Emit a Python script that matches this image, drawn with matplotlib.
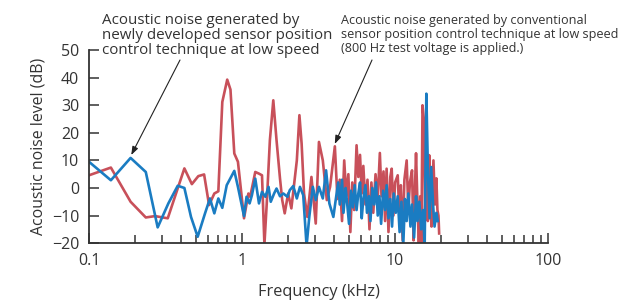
import matplotlib
matplotlib.use("Agg")
import matplotlib.pyplot as plt
from matplotlib.ticker import FixedLocator, FixedFormatter, LogLocator, NullFormatter

plt.rcParams['font.family'] = ['Open Sans', 'DejaVu Sans']

# Conventional technique (800 Hz test voltage), frequency in kHz, level in dB
red_f = [0.1, 0.139, 0.187, 0.235, 0.27, 0.327, 0.42, 0.47, 0.518, 0.565,
         0.609, 0.659, 0.70, 0.743, 0.80, 0.84, 0.89, 0.94, 1.03, 1.10,
         1.13, 1.22, 1.29, 1.35, 1.40, 1.45, 1.52, 1.60, 1.68, 1.77,
         1.83, 1.90, 2.0, 2.1, 2.28, 2.37, 2.45, 2.54, 2.67, 2.84,
         3.03, 3.18, 3.37, 3.58, 3.76,
         4.04, 4.2, 4.35, 4.5, 4.65, 4.8, 4.95, 5.1, 5.25, 5.4,
         5.6, 5.75, 5.9, 6.05, 6.2, 6.4, 6.6, 6.8, 7.0, 7.2,
         7.45, 7.7, 7.95, 8.15, 8.4, 8.6, 8.8, 9.05, 9.3, 9.5,
         9.75, 10.0, 10.4, 10.65, 10.9, 11.2, 11.5, 11.9, 12.2, 12.5,
         12.9, 13.2, 13.45, 13.7, 14.0, 14.3, 14.6, 14.85, 15.1, 15.4,
         15.7, 16.0, 16.35, 16.7, 17.0, 17.3, 17.8, 18.2, 18.6, 18.9,
         19.2, 19.4]
red_db = [4.6, 7.4, -5, -10.7, -10.2, -11, 7.1, 1.4, 4.3, 4.9,
          -6.2, -2, -1.2, 31.2, 39.3, 35.7, 12.5, 9.5, -11, -2,
          -3.2, 5.8, 5.2, 4.6, -20.5, -5.6, 17.3, 31.8, 17.3, 3.4,
          -4.4, -9.2, -2, -7.4, 10, 26.4, 16.1, -2, -10.5, 4,
          -12.9, 16.7, 10, -4.4, 0.4,
          15.1, -4, 3, -12, 10, -3, 5, -16, 2, -8,
          15.5, 4, 12, -2, 8, -6, 3, -15, 2, -9,
          5, -4, 12.7, -3, 6, -12, 7, -16, 4, 7,
          -10, 2, 4.6, -9, 1, -19, 3, 10, -8, 2,
          6.4, -19, -2, 12.6, -6, -20.5, -3, -21, 30, 25,
          -8, 5, -12, 11.9, -5, -14, 10, -6, 3.5, -8,
          -10, -16.5]

# Newly developed technique
blue_f = [0.1, 0.139, 0.187, 0.235, 0.281, 0.33, 0.38, 0.42, 0.464, 0.513,
          0.573, 0.617, 0.659, 0.70, 0.743, 0.794, 0.89, 0.94, 1.03, 1.07,
          1.12, 1.16, 1.22, 1.29, 1.35, 1.42, 1.49, 1.54, 1.62, 1.68,
          1.77, 1.86, 1.98, 2.05, 2.16, 2.28, 2.39, 2.51, 2.64, 2.75,
          2.9, 3.03, 3.18, 3.37, 3.54, 3.72, 3.95,
          4.1, 4.25, 4.35, 4.5, 4.6, 4.75, 4.85, 5.0, 5.15, 5.3,
          5.45, 5.6, 5.75, 5.9, 6.05, 6.2, 6.4, 6.55, 6.75, 6.9,
          7.1, 7.3, 7.5, 7.7, 7.9, 8.1, 8.35, 8.6, 8.8, 9.05,
          9.3, 9.55, 9.8, 10.1, 10.4, 10.7, 11.0, 11.3, 11.6, 11.9,
          12.2, 12.6, 12.9, 13.3, 13.7, 14.0, 14.4, 14.8, 15.2, 15.6,
          16.0, 16.4, 16.8, 17.2, 17.7, 18.1, 18.6, 19.0]
blue_db = [9.5, 2.8, 10.9, 5.8, -14.3, -5.6, 0.8, 0, -10.5, -17.7,
           -9.2, -3.8, -9.2, -3.8, -7.2, 1, 6.2, 0.4, -10.2, -3.2,
           -5.6, -2.6, 3.4, -5.6, -1.4, -3.2, 0.4, -5, -2, -0.2,
           -3, -2, -3.2, -0.8, 0.7, -3.8, 0.4, -2.6, -21, -10.5,
           0.4, -4.4, 0.4, -3.8, 6.4, -5.6, -10.5,
           -4, 2, -6, 3, -9, 0, -5, -13, -1, -7,
           1, -8, -2, 2, -11, -4, 1, -9, -3, -12,
           0, -6, 2, -10, -3, -13, -1, -8, 1, -11,
           -4, -14, -2, -9, -3, -16, -5, -21, -4, -12,
           -2, -14, -6, -18, -3, -12, -5, -15, -8, -21,
           34.2, 5, -11, 7.6, -6, -14, -9, -12]

x_ticks = [0.1, 1, 10, 100]
x_labels = ['0.1', '1', '10', '100']
y_ticks = [-20, -10, 0, 10, 20, 30, 40, 50]

note_new = ("Acoustic noise generated by\n"
            "newly developed sensor position\n"
            "control technique at low speed")
note_old = ("Acoustic noise generated by conventional\n"
            "sensor position control technique at low speed\n"
            "(800 Hz test voltage is applied.)")

fig = plt.figure(figsize=(6.18, 3.02), dpi=100)
ax = fig.add_axes([0.144, 0.195, 0.743, 0.639])

ax.plot(red_f, red_db, color='#c8505a', lw=1.9, solid_joinstyle='round')
ax.plot(blue_f, blue_db, color='#1a7cc2', lw=1.9, solid_joinstyle='round')

ax.set_xscale('log')
ax.set_xlim(0.1, 100)
ax.set_ylim(-20, 50)
ax.xaxis.set_major_locator(FixedLocator(x_ticks))
ax.xaxis.set_major_formatter(FixedFormatter(x_labels))
ax.xaxis.set_minor_locator(LogLocator(base=10, subs=range(2, 10)))
ax.xaxis.set_minor_formatter(NullFormatter())
ax.set_yticks(y_ticks)

for s in ['top', 'right']:
    ax.spines[s].set_visible(False)
for s in ['left', 'bottom']:
    ax.spines[s].set_linewidth(1.3)
    ax.spines[s].set_color('#333333')

ax.tick_params(axis='both', which='major', direction='in', length=7, width=1.1,
               color='#333333', labelsize=11.5, labelcolor='#333333', pad=7)
ax.tick_params(axis='x', which='minor', direction='in', length=5.5, width=1.1,
               color='#333333')

ax.set_xlabel('Frequency (kHz)', fontsize=11.8, color='#333333', labelpad=11)
ax.set_ylabel('Acoustic noise level (dB)', fontsize=11.4, color='#333333', labelpad=4)

fig.text(102 / 618, 1 - 13 / 302, note_new, fontsize=10.9, color='#333333',
         va='top', ha='left', linespacing=1.0)
fig.text(341 / 618, 1 - 14 / 302, note_old, fontsize=9.1, color='#333333',
         va='top', ha='left', linespacing=1.12)

arrow = dict(arrowstyle='-|>,head_length=0.5,head_width=0.18', color='#222222',
             lw=0.8, shrinkA=0, shrinkB=1)
ax.annotate('', xy=(0.187, 11.5), xycoords='data',
            xytext=(180, 302 - 60), textcoords='figure pixels', arrowprops=arrow)
ax.annotate('', xy=(4.0, 15.5), xycoords='data',
            xytext=(372, 302 - 60), textcoords='figure pixels', arrowprops=arrow)

fig.savefig('out.png', dpi=100)
